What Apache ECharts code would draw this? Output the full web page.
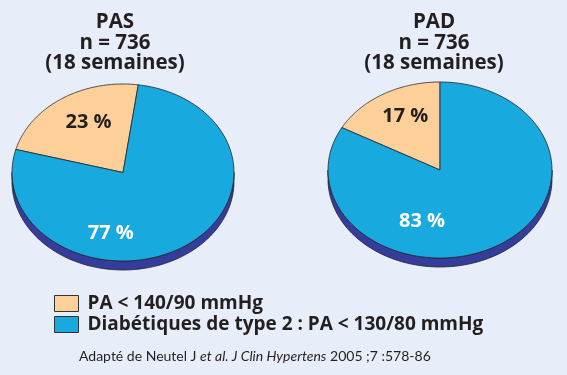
<!DOCTYPE html>
<html>
<head>
<meta charset="utf-8">
<script src="https://cdn.jsdelivr.net/npm/echarts@6/dist/echarts.min.js"></script>
<style>
html,body{margin:0;padding:0;background:#e7eef9;}
#chart{width:567px;height:375px;}
</style>
</head>
<body>
<div id="chart"></div>
<script>
// ---- data ----
const pieNames = ['PAS', 'PAD'];
const nPatients = [736, 736];
const durationWeeks = [18, 18];
const categories = ['PA < 140/90 mmHg', 'Diabétiques de type 2 : PA < 130/80 mmHg'];
const shareBelow140 = [23, 17];      // % per pie
const shareDiabetic130 = [77, 83];   // % per pie
const citationText = 'Adapté de Neutel J {i|et al. J Clin Hypertens} 2005 ;7 :578-86';

// ---- layout / style ----
const colors = ['#fdd09a', '#18a9df'];
const labelColors = ['#231f20', '#ffffff'];
const depthColor = '#343c9c';
const edgeColor = '#24242c';
const bgColor = '#e7eef9';
const pieBoxes = [
  {left: 12, top: 84, width: 222, height: 177},
  {left: 328, top: 82, width: 224, height: 176}
];
const startAngles = [-74.9, -61.2];   // degrees clockwise from top
const labelSpots = [                  // unit-ellipse coords per [pie][category]
  [[-0.31, 0.57], [-0.11, -0.69]],
  [[-0.31, 0.61], [-0.16, -0.58]]
];
const titleCenters = [115, 434];
const depthPx = 9;
const boldFont = 'Open Sans';
const font = 'Lato';

const shares = [shareBelow140, shareDiabetic130];

function ellPt(api, theta) {
  const r = theta * Math.PI / 180;
  return api.coord([Math.sin(r), Math.cos(r)]);
}

const grids = pieBoxes.map(b => ({left: b.left, top: b.top, width: b.width, height: b.height}));
const xAxes = pieBoxes.map((b, i) => ({gridIndex: i, type: 'value', min: -1, max: 1, show: false}));
const yAxes = pieBoxes.map((b, i) => ({gridIndex: i, type: 'value', min: -1, max: 1, show: false}));

const series = [];
// depth (3D rim)
pieNames.forEach((p, pi) => {
  series.push({
    type: 'custom', name: 'rim' + pi, xAxisIndex: pi, yAxisIndex: pi, z: 1, silent: true,
    data: [[0]],
    renderItem: function (params, api) {
      const top = [], bot = [];
      for (let k = 0; k <= 90; k++) {
        const p = ellPt(api, 90 + 180 * k / 90);
        top.push(p);
        bot.push([p[0], p[1] + depthPx]);
      }
      return {type: 'polygon', shape: {points: top.concat(bot.reverse())},
        style: {fill: depthColor, stroke: edgeColor, lineWidth: 0.8}};
    }
  });
});
// slices
pieNames.forEach((p, pi) => {
  let acc = 0;
  categories.forEach((c, ci) => {
    const v = shares[ci][pi];
    const a0 = startAngles[pi] + acc * 3.6;
    const a1 = startAngles[pi] + (acc + v) * 3.6;
    acc += v;
    series.push({
      type: 'custom', name: c, xAxisIndex: pi, yAxisIndex: pi, z: 2, silent: true,
      itemStyle: {color: colors[ci]},
      data: [[a0, a1, v]],
      renderItem: function (params, api) {
        const s = api.value(0), e = api.value(1), val = api.value(2);
        const pts = [api.coord([0, 0])];
        const n = 120;
        for (let k = 0; k <= n; k++) pts.push(ellPt(api, s + (e - s) * k / n));
        const lp = api.coord(labelSpots[pi][ci]);
        return {type: 'group', children: [
          {type: 'polygon', shape: {points: pts},
            style: {fill: colors[ci], stroke: edgeColor, lineWidth: 0.8}},
          {type: 'text', x: lp[0], y: lp[1], z2: 10,
            style: {text: val + ' %', fill: labelColors[ci], font: 'bold 20px "' + boldFont + '"',
              align: 'center', verticalAlign: 'middle'}}
        ]};
      }
    });
  });
});

const graphics = pieNames.map((p, pi) => ({
  type: 'text', x: titleCenters[pi], y: 12,
  style: {text: p + '\nn = ' + nPatients[pi] + '\n(' + durationWeeks[pi] + ' semaines)',
    font: 'bold 20.5px "' + boldFont + '"', fill: '#231f20', align: 'center', verticalAlign: 'top', lineHeight: 20.5}
}));
graphics.push({
  type: 'text', x: 79, y: 356,
  style: {text: citationText, font: '14px ' + font, fill: '#231f20', align: 'left', verticalAlign: 'middle',
    rich: {i: {fontStyle: 'italic', fontSize: 14, fontFamily: font, fill: '#231f20'}}}
});

const chart = echarts.init(document.getElementById('chart'));
chart.setOption({
  backgroundColor: bgColor,
  animation: false,
  grid: grids,
  xAxis: xAxes,
  yAxis: yAxes,
  legend: {
    orient: 'vertical', left: 49, top: 289, itemWidth: 24, itemHeight: 16, itemGap: 2,
    icon: 'rect', selectedMode: false,
    data: categories,
    itemStyle: {borderColor: '#333', borderWidth: 1},
    textStyle: {fontFamily: boldFont, fontWeight: 'bold', fontSize: 19, color: '#231f20', lineHeight: 16, padding: [0, 0, 0, 4]}
  },
  graphic: graphics,
  series: series
});
</script>
</body>
</html>
